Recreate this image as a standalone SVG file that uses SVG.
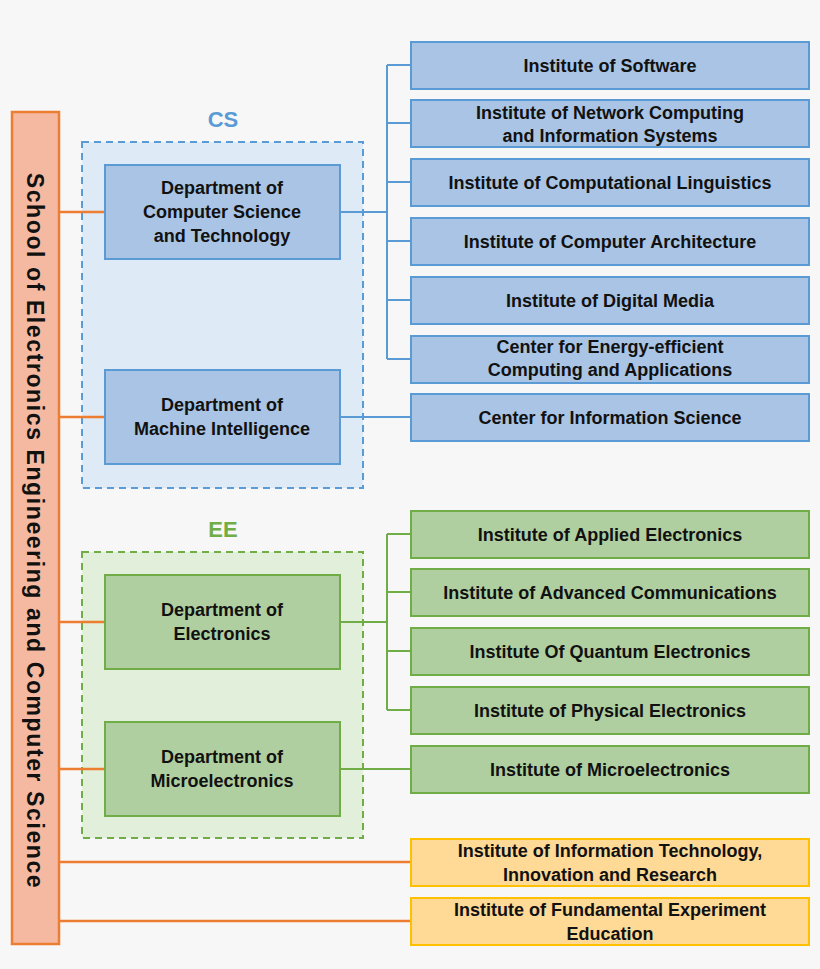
<svg xmlns="http://www.w3.org/2000/svg" width="820" height="969" viewBox="0 0 820 969">
<style>
text{font-family:"Liberation Sans",Arial,sans-serif;font-weight:bold;font-size:18px;fill:#111;text-anchor:middle}
.b{fill:#a9c4e4;stroke:#5b9bd5;stroke-width:2}
.g{fill:#b0cfa0;stroke:#70ad47;stroke-width:2}
.y{fill:#ffd996;stroke:#ffc000;stroke-width:2}
.lb{stroke:#5b9bd5;stroke-width:2;fill:none}
.lg{stroke:#70ad47;stroke-width:2;fill:none}
.lo{stroke:#ed7d31;stroke-width:2.5;fill:none}
</style>
<rect width="820" height="969" fill="#f7f7f7"/>
<g id="cs-group"><rect x="82" y="142" width="281" height="346" fill="#deeaf6" stroke="#5b9bd5" stroke-width="2" stroke-dasharray="7,5"/><text x="223" y="127" style="font-size:22px;fill:#5b9bd5">CS</text></g>
<g id="ee-group"><rect x="82" y="552" width="281" height="286" fill="#e2efda" stroke="#70ad47" stroke-width="2" stroke-dasharray="7,5"/><text x="223" y="537" style="font-size:22px;fill:#70ad47">EE</text></g>
<g id="connectors">
<path class="lo" d="M59 212H105M59 417H105M59 622H105M59 769H105M59 862H411M59 921H411"/>
<path class="lb" d="M340 212H387M387 65V359M387 65H411M387 123H411M387 182H411M387 241H411M387 300H411M387 359H411M340 417H411"/>
<path class="lg" d="M340 622H387M387 534V710M387 534H411M387 592H411M387 651H411M387 710H411M340 769H411"/>
</g>
<g id="school"><rect x="12" y="112" width="47" height="832" fill="#f4b9a0" stroke="#ed7d31" stroke-width="2.5"/><text transform="translate(27,531) rotate(90)" style="font-size:23px;letter-spacing:1.6px">School of Electronics Engineering and Computer Science</text></g>
<g id="dept-cs"><rect class="b" x="105" y="165" width="235" height="94"/><text x="222" y="194">Department of</text><text x="222" y="218">Computer Science</text><text x="222" y="242">and Technology</text></g>
<g id="dept-mi"><rect class="b" x="105" y="370" width="235" height="94"/><text x="222" y="411">Department of</text><text x="222" y="435">Machine Intelligence</text></g>
<g id="dept-e"><rect class="g" x="105" y="575" width="235" height="94"/><text x="222" y="616">Department of</text><text x="222" y="640">Electronics</text></g>
<g id="dept-me"><rect class="g" x="105" y="722" width="235" height="94"/><text x="222" y="763">Department of</text><text x="222" y="787">Microelectronics</text></g>
<g id="n1"><rect class="b" x="411" y="42" width="398" height="47"/><text x="610" y="72">Institute of Software</text></g>
<g id="n2"><rect class="b" x="411" y="100" width="398" height="47"/><text x="610" y="119">Institute of Network Computing</text><text x="610" y="142">and Information Systems</text></g>
<g id="n3"><rect class="b" x="411" y="159" width="398" height="47"/><text x="610" y="189">Institute of Computational Linguistics</text></g>
<g id="n4"><rect class="b" x="411" y="218" width="398" height="47"/><text x="610" y="248">Institute of Computer Architecture</text></g>
<g id="n5"><rect class="b" x="411" y="277" width="398" height="47"/><text x="610" y="307">Institute of Digital Media</text></g>
<g id="n6"><rect class="b" x="411" y="336" width="398" height="47"/><text x="610" y="353">Center for Energy-efficient</text><text x="610" y="376">Computing and Applications</text></g>
<g id="n7"><rect class="b" x="411" y="394" width="398" height="47"/><text x="610" y="424">Center for Information Science</text></g>
<g id="n8"><rect class="g" x="411" y="511" width="398" height="47"/><text x="610" y="541">Institute of Applied Electronics</text></g>
<g id="n9"><rect class="g" x="411" y="569" width="398" height="47"/><text x="610" y="599">Institute of Advanced Communications</text></g>
<g id="n10"><rect class="g" x="411" y="628" width="398" height="47"/><text x="610" y="658">Institute Of Quantum Electronics</text></g>
<g id="n11"><rect class="g" x="411" y="687" width="398" height="47"/><text x="610" y="717">Institute of Physical Electronics</text></g>
<g id="n12"><rect class="g" x="411" y="746" width="398" height="47"/><text x="610" y="776">Institute of Microelectronics</text></g>
<g id="n13"><rect class="y" x="411" y="839" width="398" height="47"/><text x="610" y="857">Institute of Information Technology,</text><text x="610" y="881">Innovation and Research</text></g>
<g id="n14"><rect class="y" x="411" y="898" width="398" height="47"/><text x="610" y="916">Institute of Fundamental Experiment</text><text x="610" y="940">Education</text></g>
</svg>
